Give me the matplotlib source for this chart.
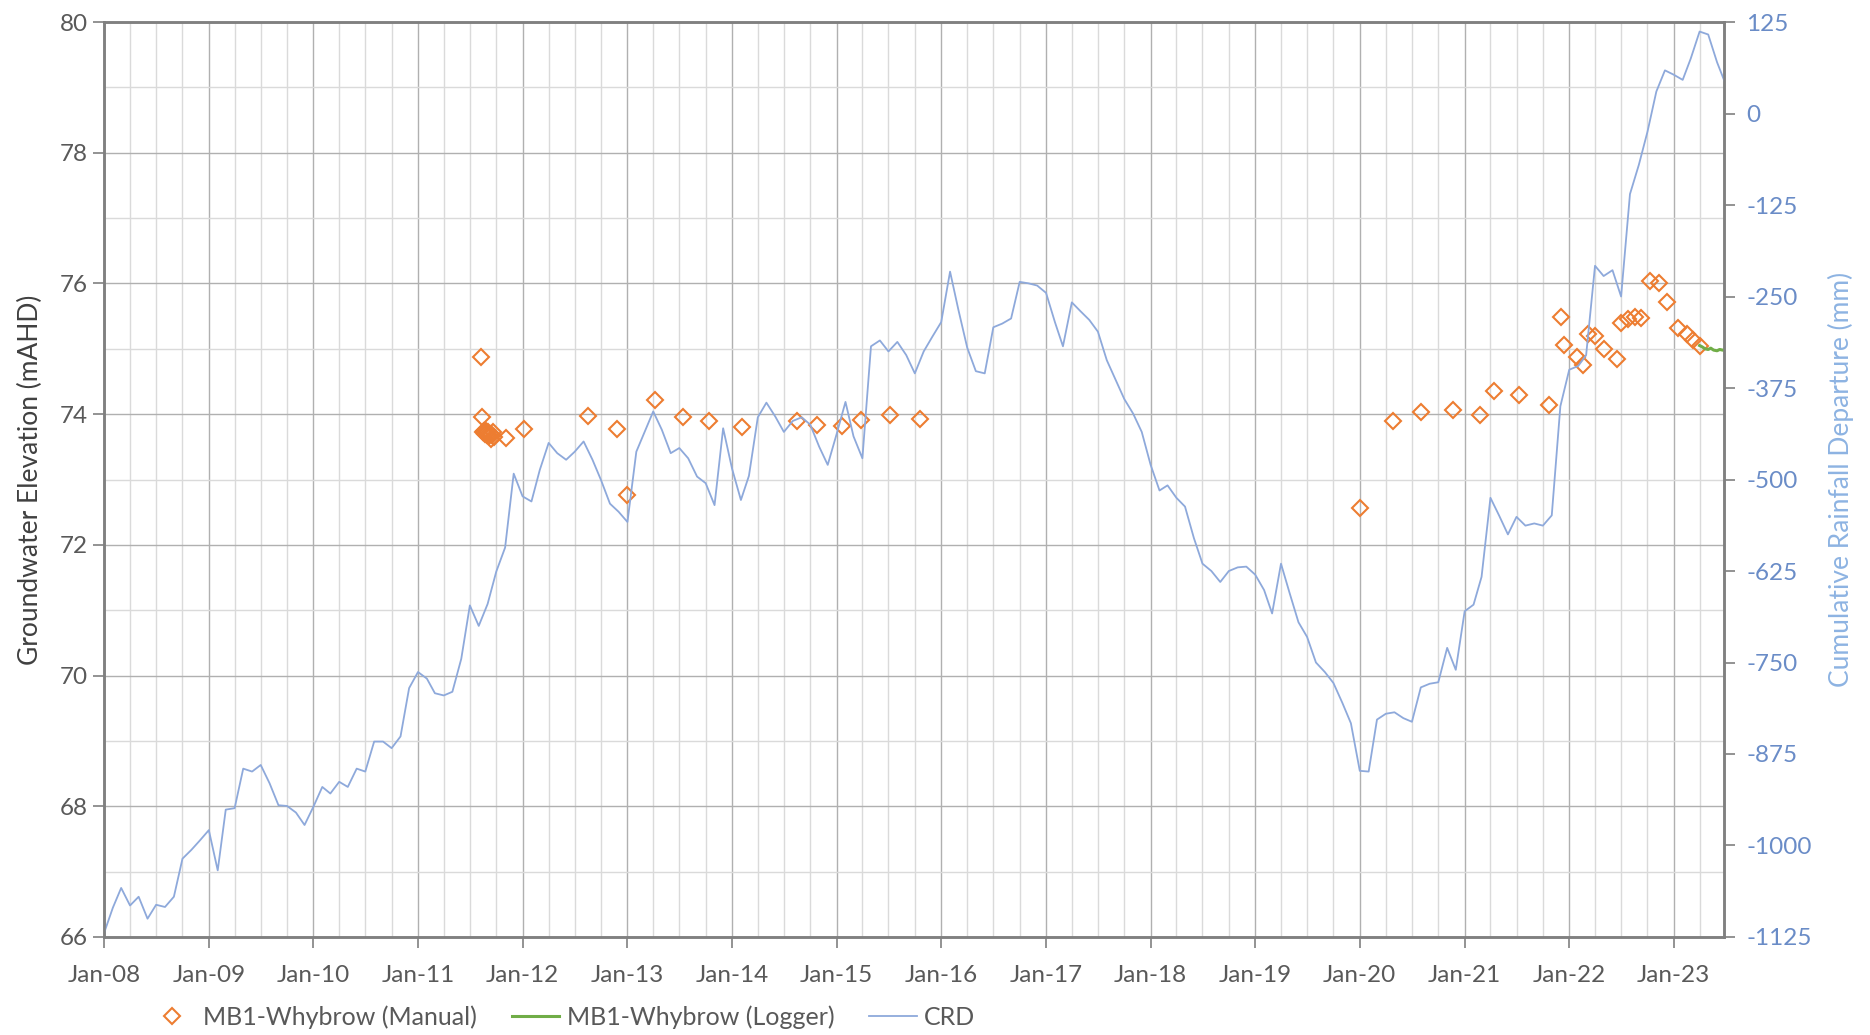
import matplotlib
matplotlib.use('Agg')
import matplotlib.pyplot as plt
import matplotlib.dates as mdates
from matplotlib.lines import Line2D
from matplotlib.ticker import MultipleLocator
import pandas as pd

plt.rcParams['font.family'] = ['Lato', 'DejaVu Sans']
plt.rcParams['axes.unicode_minus'] = False

# cumulative rainfall departure (mm), monthly from Jan-2008
crd = [-1120, -1085, -1058, -1082, -1070, -1100, -1081, -1084, -1070, -1018, -1006, -993,
       -979, -1034, -951, -949, -895, -899, -890, -915, -945, -946, -955, -972,
       -947, -920, -929, -913, -920, -895, -899, -858, -858, -867, -851, -785,
       -763, -772, -792, -795, -790, -745, -672, -700, -670, -626, -593, -492,
       -523, -530, -487, -450, -464, -473, -462, -448, -473, -501, -533, -544,
       -558, -462, -436, -407, -432, -464, -457, -471, -496, -505, -535, -430,
       -485, -528, -495, -415, -395, -414, -435, -420, -415, -425, -455, -480,
       -438, -394, -441, -471, -318, -310, -325, -312, -330, -355, -325, -305,
       -285, -216, -268, -320, -352, -355, -292, -287, -280, -230, -232, -235,
       -245, -285, -318, -258, -270, -282, -298, -337, -364, -390, -410, -435,
       -480, -515, -508, -525, -537, -580, -615, -625, -640, -625, -620, -619,
       -630, -651, -683, -615, -655, -695, -715, -750, -763, -778, -805, -833,
       -898, -899, -828, -820, -818, -826, -831, -784, -779, -777, -730, -760,
       -680, -671, -633, -525, -549, -575, -551, -563, -560, -563, -549, -400,
       -350, -345, -330, -208, -222, -214, -250, -110, -70, -25, 30, 59,
       53, 46, 75, 112, 108, 70, 40]
crd_dates = pd.date_range('2008-01-01', periods=len(crd), freq='MS')

# manual groundwater readings (mAHD)
manual_dates = pd.to_datetime([
    '2011-08-10', '2011-08-12', '2011-08-15', '2011-08-18', '2011-08-22', '2011-08-25',
    '2011-08-29', '2011-09-01', '2011-09-05', '2011-09-08', '2011-09-12', '2011-09-15',
    '2011-09-20', '2011-09-25', '2011-11-05', '2012-01-06', '2012-08-18', '2012-11-25',
    '2013-01-01', '2013-04-06', '2013-07-15', '2013-10-12', '2014-02-06', '2014-08-15',
    '2014-10-25', '2015-01-19', '2015-03-28', '2015-07-06', '2015-10-19',
    '2020-01-02', '2020-04-25', '2020-08-01', '2020-11-22', '2021-02-22', '2021-04-15',
    '2021-07-10', '2021-10-22', '2021-12-03', '2021-12-15', '2022-01-28', '2022-02-18',
    '2022-03-06', '2022-04-01', '2022-05-03', '2022-06-15', '2022-07-01', '2022-07-24',
    '2022-08-20', '2022-09-10', '2022-10-10', '2022-11-12', '2022-12-07', '2023-01-15',
    '2023-02-15', '2023-03-10', '2023-04-01'])
manual_gw = [74.87, 73.95, 73.72, 73.75, 73.70, 73.74,
             73.68, 73.72, 73.66, 73.70, 73.62, 73.68,
             73.72, 73.65, 73.63, 73.77, 73.97, 73.77,
             72.76, 74.22, 73.95, 73.90, 73.80, 73.90,
             73.83, 73.82, 73.91, 73.99, 73.93,
             72.56, 73.89, 74.04, 74.06, 73.98, 74.35,
             74.30, 74.14, 75.49, 75.06, 74.88, 74.75,
             75.23, 75.19, 74.99, 74.85, 75.39, 75.46,
             75.48, 75.47, 76.03, 76.00, 75.71, 75.32,
             75.22, 75.13, 75.04]

# logger record
logger_dates = pd.to_datetime(['2023-04-01', '2023-04-10', '2023-04-20', '2023-05-01', '2023-05-10',
                               '2023-05-20', '2023-06-01', '2023-06-10', '2023-06-20', '2023-06-25'])
logger_gw = [75.05, 75.03, 75.00, 74.99, 75.01, 74.98, 74.97, 74.99, 74.98, 74.98]

orange = '#ED7D31'
green = '#70AD47'
blue = '#8EA9DB'
grey_txt = '#595959'

fig = plt.figure(figsize=(18.7, 10.35), dpi=100)
ax = fig.add_axes([0.0556, 0.0947, 0.8663, 0.884])
ax2 = ax.twinx()

ax.plot(manual_dates, manual_gw, ls='none', marker='D', ms=8, mfc='none', mec=orange, mew=1.5, zorder=3)
ax.plot(logger_dates, logger_gw, color=green, lw=2.2, zorder=3)
ax2.plot(crd_dates, crd, color=blue, lw=1.3)

ax.set_xlim(pd.Timestamp('2008-01-01'), pd.Timestamp('2023-06-25'))
ax.set_ylim(66, 80)
ax2.set_ylim(-1125, 125)

ax.xaxis.set_major_locator(mdates.YearLocator())
ax.xaxis.set_major_formatter(mdates.DateFormatter('%b-%y'))
ax.xaxis.set_minor_locator(mdates.MonthLocator(bymonth=[4, 7, 10]))
ax.yaxis.set_major_locator(MultipleLocator(2))
ax.yaxis.set_minor_locator(MultipleLocator(1))
ax2.yaxis.set_major_locator(MultipleLocator(125))

ax.grid(which='major', color='#b0b0b0', lw=1.0)
ax.grid(which='minor', color='#dadada', lw=1.0)
ax.set_axisbelow(True)

ax.tick_params(axis='both', which='major', direction='out', length=8, width=1.2,
               color='#808080', labelsize=17.5, labelcolor=grey_txt)
ax.tick_params(axis='x', which='major', pad=12)
ax.tick_params(which='minor', length=0)
ax2.tick_params(axis='y', direction='out', length=8, width=1.2, color='#808080',
                labelsize=17.5, labelcolor='#6A8CC7', pad=8)

for a in (ax, ax2):
    for s in a.spines.values():
        s.set_color('#808080')
        s.set_linewidth(1.8)

ax.set_ylabel('Groundwater Elevation (mAHD)', fontsize=19, color='#404040', labelpad=12)
ax2.set_ylabel('Cumulative Rainfall Departure (mm)', fontsize=19, color='#8DB3E2', labelpad=12)

handles = [
    Line2D([], [], ls='none', marker='D', ms=8, mfc='none', mec=orange, mew=1.5),
    Line2D([], [], color=green, lw=2.2),
    Line2D([], [], color=blue, lw=1.3),
]
labels = ['MB1-Whybrow (Manual)', 'MB1-Whybrow (Logger)', 'CRD']
fig.legend(handles, labels, loc='center left', bbox_to_anchor=(0.067, 0.017), ncol=3,
           frameon=False, fontsize=18, labelcolor=grey_txt, handlelength=1.9,
           handletextpad=0.3, columnspacing=1.4)

fig.savefig('out.png', dpi=100)
